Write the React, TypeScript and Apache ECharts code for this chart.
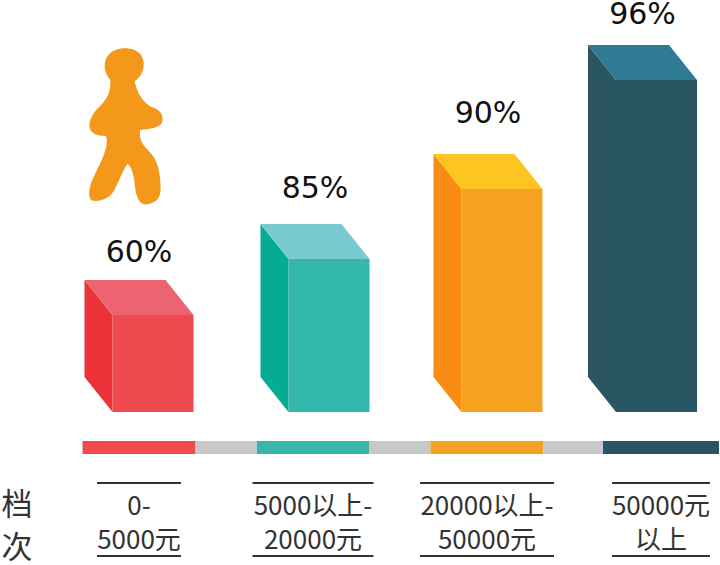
import React, { useEffect, useRef } from "react";
import * as echarts from "echarts";

const categories = ["0-\n5000元", "5000以上-\n20000元", "20000以上-\n50000元", "50000元\n以上"];
const percentValues = [60, 85, 90, 96];
// Drawn column heights: the source does not draw them in proportion to the percentages.
const columnHeights = [97, 153, 223, 332];
const sideTitle = ["档", "次"];

const frontColors = ["#EE4B50", "#33B8AB", "#F4A21F", "#2A5563"];
const topColors = ["#EC6470", "#7ACBD1", "#FEC521", "#2F7B93"];
const sideColors = ["#EA3238", "#05AC92", "#F88C14", "#2B5560"];

const personPath =
  "M224,155 C234,195 252,222 277,232 C297,238 310,250 308,272 C307,292 272,298 240,300 C238,330 247,343 267,363 " +
  "C292,390 301,420 302,470 C304,507 287,522 255,524 C233,522 226,490 223,450 C218,425 212,408 203,402 " +
  "C192,415 178,452 163,482 C147,508 115,517 96,512 C83,503 86,475 98,448 C113,413 132,385 140,345 " +
  "C141,330 141,322 136,318 C113,317 88,312 88,285 C90,263 103,243 123,226 C143,203 153,185 151,150 " +
  "C133,130 128,100 143,78 C163,48 222,48 242,73 C260,100 252,135 224,155 Z";

const FRONT_WIDTH = 81;
const DEPTH_X = 28;
const DEPTH_Y = 35;
const barNudge = [0, 2, 1, -18.5];
const labelLift = [29, 37, 42, 32];
const stripWidths = [113, 112, 113, 116];
const ruleWidths = [84, 121, 134, 98];

export default function App() {
  const ref = useRef<HTMLDivElement>(null);
  useEffect(() => {
    if (!ref.current) return;
    echarts.graphic.registerShape("person", echarts.graphic.extendPath(personPath, {}));
    const chart = echarts.init(ref.current, undefined, { renderer: "svg" });

    const renderColumn = (_: any, api: any) => {
      const i = api.value(0);
      const [cx, topY] = api.coord([i, api.value(1)]);
      const [, baseY] = api.coord([i, 0]);
      const left = cx + barNudge[i] - (FRONT_WIDTH + DEPTH_X) / 2;
      const frontL = left + DEPTH_X;
      const frontR = frontL + FRONT_WIDTH;
      const poly = (points: number[][], fill: string) => ({ type: "polygon", shape: { points }, style: { fill } });
      return {
        type: "group",
        children: [
          poly([[left, topY - DEPTH_Y], [frontL, topY], [frontL, baseY], [left, baseY - DEPTH_Y]], sideColors[i]),
          poly([[left, topY - DEPTH_Y], [left + FRONT_WIDTH, topY - DEPTH_Y], [frontR, topY], [frontL, topY]], topColors[i]),
          { type: "rect", shape: { x: frontL, y: topY, width: FRONT_WIDTH, height: baseY - topY }, style: { fill: frontColors[i] } },
          {
            type: "text",
            style: {
              text: percentValues[i] + "%",
              x: left + (FRONT_WIDTH + DEPTH_X) / 2,
              y: topY - DEPTH_Y - labelLift[i],
              align: "center",
              verticalAlign: "middle",
              fill: "#111111",
              font: "30px 'DejaVu Sans'",
            },
          },
        ],
      };
    };

    const stripBounds = (api: any, i: number) => {
      const [cx, baseY] = api.coord([i, 0]);
      return { left: cx - stripWidths[i] / 2, right: cx + stripWidths[i] / 2, y: baseY + 29 };
    };

    const renderStrip = (_: any, api: any) => {
      const i = api.value(0);
      const b = stripBounds(api, i);
      const children: any[] = [
        { type: "rect", shape: { x: b.left, y: b.y, width: b.right - b.left, height: 13 }, style: { fill: frontColors[i] } },
      ];
      if (i < categories.length - 1) {
        const next = stripBounds(api, i + 1);
        children.push({
          type: "rect",
          shape: { x: b.right, y: b.y, width: next.left - b.right, height: 13 },
          style: { fill: "#C8C8C8" },
        });
      }
      return { type: "group", children };
    };

    const renderRules = (_: any, api: any) => {
      const i = api.value(0);
      const [cx, baseY] = api.coord([i, 0]);
      const x = cx - ruleWidths[i] / 2;
      const rect = (y: number) => ({
        type: "rect",
        shape: { x, y, width: ruleWidths[i], height: 2 },
        style: { fill: "#333333" },
      });
      return { type: "group", children: [rect(baseY + 70), rect(baseY + 143)] };
    };

    const rows = categories.map((_, i) => [i, columnHeights[i]]);

    chart.setOption({
      animation: false,
      backgroundColor: "#FFFFFF",
      grid: { left: 52, width: 696, top: 0, height: 412, outerBoundsMode: "none" },
      xAxis: {
        type: "category",
        data: categories,
        axisLine: { show: false },
        axisTick: { show: false },
        axisLabel: {
          interval: 0,
          hideOverlap: false,
          margin: 74,
          fontFamily: "'Noto Sans CJK SC'",
          fontSize: 26,
          lineHeight: 34,
          color: "#333333",
        },
      },
      yAxis: { type: "value", min: 0, max: 412, show: false },
      series: [
        { type: "custom", name: "档次条", renderItem: renderStrip, data: rows, silent: true },
        { type: "custom", name: "分隔线", renderItem: renderRules, data: rows, silent: true },
        { type: "custom", name: "比例", renderItem: renderColumn, data: rows, silent: true },
      ],
      graphic: [
        { type: "person", x: 60, y: 30, scaleX: 1 / 3, scaleY: 1 / 3, style: { fill: "#F3981A" } },
        ...sideTitle.map((t, i) => ({
          type: "text",
          x: 17,
          y: 501 + i * 43,
          style: { text: t, align: "center", verticalAlign: "middle", fill: "#333333", font: "31px 'Noto Sans CJK SC'" },
        })),
      ],
    });
    return () => chart.dispose();
  }, []);
  return <div ref={ref} style={{ position: "absolute", left: 0, top: 0, width: 720, height: 565 }} />;
}
